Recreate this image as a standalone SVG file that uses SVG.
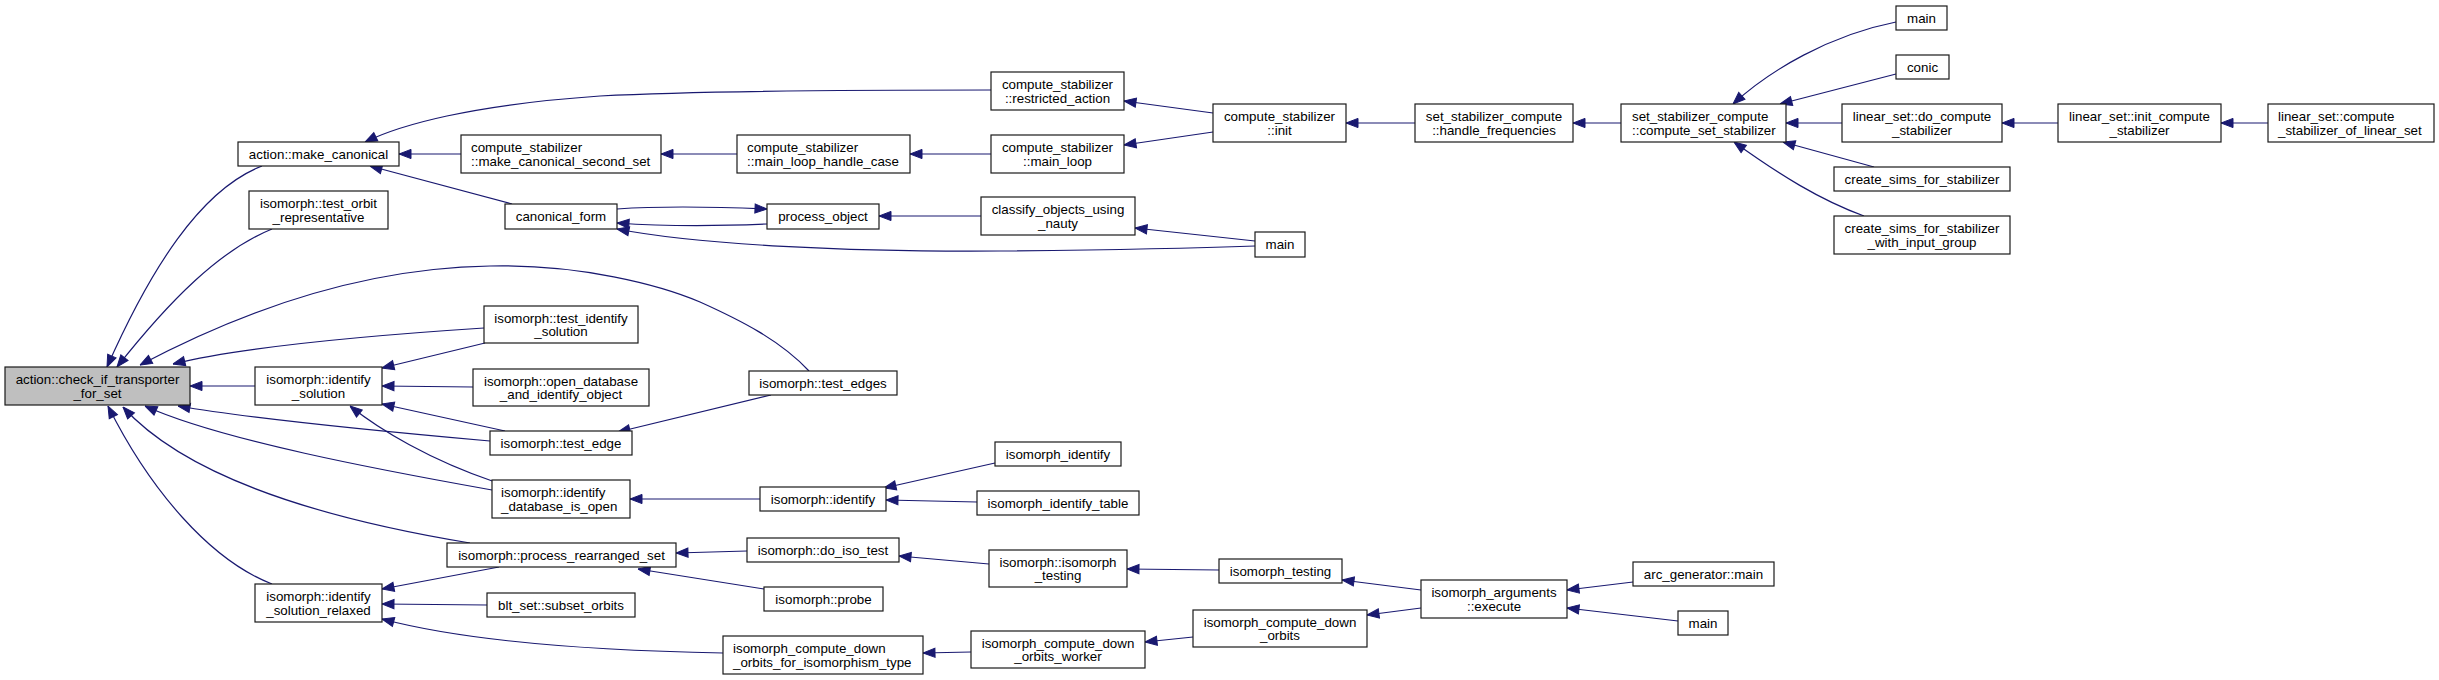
<svg xmlns="http://www.w3.org/2000/svg" width="2439" height="680" viewBox="0 0 2439 680">
<style>
.node rect{fill:#fff;stroke:#1a1a1a;stroke-width:1.2}
.node rect.root{fill:#bfbfbf}
text{font-family:"Liberation Sans",Arial,Helvetica,sans-serif;font-size:13.33px;fill:#000}
.c{text-anchor:middle}
.edges path{fill:none;stroke:#191970;stroke-width:1.2;marker-start:url(#arr)}
</style>
<defs>
<marker id="arr" markerUnits="userSpaceOnUse" markerWidth="14" markerHeight="12" viewBox="0 -6 14 12" refX="0" refY="0" orient="auto">
<path d="M0,0 L12,-4.6 L12,4.6 z" fill="#191970" stroke="#191970" stroke-width="1"/>
</marker>
</defs>
<rect x="0" y="0" width="2439" height="680" fill="#fff"/>
<g class="edges">
<path d="M107,367 C150,270 200,190 262,166"/>
<path d="M117,367 C170,300 220,250 272,229"/>
<path d="M140,365 C240,312 360,268 490,266 C580,264 660,285 700,302 C740,320 780,340 809,371"/>
<path d="M173,364 C230,350 330,338 484,328"/>
<path d="M190,386 L255,386"/>
<path d="M178,406 C260,420 400,433 490,441"/>
<path d="M145,406 C220,440 380,470 492,490"/>
<path d="M123,407 C180,470 300,515 470,543"/>
<path d="M108,406 C150,490 210,560 272,584"/>
<path d="M382,368 L485,343"/>
<path d="M382,386 L473,387"/>
<path d="M382,404 L505,431"/>
<path d="M350,406 C380,430 430,460 495,482"/>
<path d="M382,589 L499,567"/>
<path d="M382,604 L487,605"/>
<path d="M382,619 C450,637 560,650 723,653"/>
<path d="M676,553 L747,551"/>
<path d="M638,569 L764,589"/>
<path d="M618,432 L771,395"/>
<path d="M630,499 L760,499"/>
<path d="M884,488 L995,463"/>
<path d="M886,500 L977,502"/>
<path d="M899,556 L989,564"/>
<path d="M923,653 L971,652"/>
<path d="M1127,569 L1219,570"/>
<path d="M1145,642 L1193,637"/>
<path d="M1342,580 L1421,590"/>
<path d="M1367,615 L1421,608"/>
<path d="M1567,590 L1633,582"/>
<path d="M1567,608 L1678,621"/>
<path d="M1733,104 C1770,70 1830,35 1896,22"/>
<path d="M1780,104 L1896,74"/>
<path d="M1783,142 L1874,167"/>
<path d="M1734,142 C1780,175 1820,200 1864,216"/>
<path d="M1124,101 L1213,113"/>
<path d="M1124,145 L1213,132"/>
<path d="M1346,123 L1415,123"/>
<path d="M1573,123 L1621,123"/>
<path d="M1786,123 L1842,123"/>
<path d="M2002,123 L2058,123"/>
<path d="M2221,123 L2268,123"/>
<path d="M365,142 C400,125 470,105 600,96 C700,91 850,90 991,90"/>
<path d="M399,154 L461,154"/>
<path d="M661,154 L737,154"/>
<path d="M910,154 L991,154"/>
<path d="M370,166 L512,204"/>
<path d="M767,209 C720,207 660,206 617,209"/>
<path d="M617,223 C660,226 720,226 767,224"/>
<path d="M617,229 C700,245 850,252 1000,251 C1100,250 1200,248 1255,246"/>
<path d="M879,216 L981,216"/>
<path d="M1135,228 L1255,241"/>
</g>
<g id="n_check_if_transporter" class="node"><rect class="root" x="5" y="367" width="185" height="38"/><text class="c" x="97.5" y="384">action::check_if_transporter</text><text class="c" x="97.5" y="397.5">_for_set</text></g>
<g id="n_make_canonical" class="node"><rect x="238" y="142" width="161" height="24"/><text class="c" x="318.5" y="158.5">action::make_canonical</text></g>
<g id="n_test_orbit_representative" class="node"><rect x="249" y="191" width="139" height="38"/><text class="c" x="318.5" y="208">isomorph::test_orbit</text><text class="c" x="318.5" y="221.5">_representative</text></g>
<g id="n_identify_solution" class="node"><rect x="255" y="367" width="127" height="38"/><text class="c" x="318.5" y="384">isomorph::identify</text><text class="c" x="318.5" y="397.5">_solution</text></g>
<g id="n_identify_solution_relaxed" class="node"><rect x="255" y="584" width="127" height="38"/><text class="c" x="318.5" y="601">isomorph::identify</text><text class="c" x="318.5" y="614.5">_solution_relaxed</text></g>
<g id="n_make_canonical_second_set" class="node"><rect x="461" y="135" width="200" height="38"/><text x="471" y="152">compute_stabilizer</text><text x="471" y="165.5">::make_canonical_second_set</text></g>
<g id="n_canonical_form" class="node"><rect x="505" y="204" width="112" height="25"/><text class="c" x="561" y="221">canonical_form</text></g>
<g id="n_test_identify_solution" class="node"><rect x="484" y="306" width="154" height="37"/><text class="c" x="561" y="322.5">isomorph::test_identify</text><text class="c" x="561" y="336">_solution</text></g>
<g id="n_open_database" class="node"><rect x="473" y="369" width="176" height="37"/><text class="c" x="561" y="385.5">isomorph::open_database</text><text class="c" x="561" y="399">_and_identify_object</text></g>
<g id="n_test_edge" class="node"><rect x="490" y="431" width="142" height="24"/><text class="c" x="561" y="447.5">isomorph::test_edge</text></g>
<g id="n_identify_database_is_open" class="node"><rect x="492" y="480" width="138" height="38"/><text x="501" y="497">isomorph::identify</text><text x="501" y="510.5">_database_is_open</text></g>
<g id="n_process_rearranged_set" class="node"><rect x="447" y="543" width="229" height="24"/><text class="c" x="561.5" y="559.5">isomorph::process_rearranged_set</text></g>
<g id="n_subset_orbits" class="node"><rect x="487" y="593" width="148" height="24"/><text class="c" x="561" y="609.5">blt_set::subset_orbits</text></g>
<g id="n_down_orbits_for_iso_type" class="node"><rect x="723" y="636" width="200" height="38"/><text x="733" y="653">isomorph_compute_down</text><text x="733" y="666.5">_orbits_for_isomorphism_type</text></g>
<g id="n_main_loop_handle_case" class="node"><rect x="737" y="135" width="173" height="38"/><text x="747" y="152">compute_stabilizer</text><text x="747" y="165.5">::main_loop_handle_case</text></g>
<g id="n_process_object" class="node"><rect x="767" y="204" width="112" height="25"/><text class="c" x="823" y="221">process_object</text></g>
<g id="n_test_edges" class="node"><rect x="749" y="371" width="148" height="24"/><text class="c" x="823" y="387.5">isomorph::test_edges</text></g>
<g id="n_identify" class="node"><rect x="760" y="487" width="126" height="24"/><text class="c" x="823" y="503.5">isomorph::identify</text></g>
<g id="n_do_iso_test" class="node"><rect x="747" y="538" width="152" height="24"/><text class="c" x="823" y="554.5">isomorph::do_iso_test</text></g>
<g id="n_probe" class="node"><rect x="764" y="587" width="119" height="24"/><text class="c" x="823.5" y="603.5">isomorph::probe</text></g>
<g id="n_restricted_action" class="node"><rect x="991" y="72" width="133" height="38"/><text class="c" x="1057.5" y="89">compute_stabilizer</text><text class="c" x="1057.5" y="102.5">::restricted_action</text></g>
<g id="n_main_loop" class="node"><rect x="991" y="135" width="133" height="38"/><text class="c" x="1057.5" y="152">compute_stabilizer</text><text class="c" x="1057.5" y="165.5">::main_loop</text></g>
<g id="n_classify" class="node"><rect x="981" y="197" width="154" height="38"/><text class="c" x="1058" y="214">classify_objects_using</text><text class="c" x="1058" y="227.5">_nauty</text></g>
<g id="n_isomorph_identify" class="node"><rect x="995" y="442" width="126" height="24"/><text class="c" x="1058" y="458.5">isomorph_identify</text></g>
<g id="n_isomorph_identify_table" class="node"><rect x="977" y="491" width="162" height="24"/><text class="c" x="1058" y="507.5">isomorph_identify_table</text></g>
<g id="n_isomorph_isomorph_testing" class="node"><rect x="989" y="550" width="138" height="37"/><text class="c" x="1058" y="566.5">isomorph::isomorph</text><text class="c" x="1058" y="580">_testing</text></g>
<g id="n_down_orbits_worker" class="node"><rect x="971" y="631" width="174" height="37"/><text class="c" x="1058" y="647.5">isomorph_compute_down</text><text class="c" x="1058" y="661">_orbits_worker</text></g>
<g id="n_init" class="node"><rect x="1213" y="104" width="133" height="38"/><text class="c" x="1279.5" y="121">compute_stabilizer</text><text class="c" x="1279.5" y="134.5">::init</text></g>
<g id="n_main_mid" class="node"><rect x="1255" y="232" width="50" height="25"/><text class="c" x="1280" y="249">main</text></g>
<g id="n_isomorph_testing" class="node"><rect x="1219" y="559" width="123" height="24"/><text class="c" x="1280.5" y="575.5">isomorph_testing</text></g>
<g id="n_down_orbits" class="node"><rect x="1193" y="610" width="174" height="37"/><text class="c" x="1280" y="626.5">isomorph_compute_down</text><text class="c" x="1280" y="640">_orbits</text></g>
<g id="n_handle_frequencies" class="node"><rect x="1415" y="104" width="158" height="38"/><text class="c" x="1494" y="121">set_stabilizer_compute</text><text class="c" x="1494" y="134.5">::handle_frequencies</text></g>
<g id="n_execute" class="node"><rect x="1421" y="580" width="146" height="38"/><text class="c" x="1494" y="597">isomorph_arguments</text><text class="c" x="1494" y="610.5">::execute</text></g>
<g id="n_compute_set_stabilizer" class="node"><rect x="1621" y="104" width="165" height="38"/><text x="1632" y="121">set_stabilizer_compute</text><text x="1632" y="134.5">::compute_set_stabilizer</text></g>
<g id="n_arc_generator_main" class="node"><rect x="1633" y="562" width="141" height="24"/><text class="c" x="1703.5" y="578.5">arc_generator::main</text></g>
<g id="n_main_bottom" class="node"><rect x="1678" y="611" width="50" height="24"/><text class="c" x="1703" y="627.5">main</text></g>
<g id="n_main_top" class="node"><rect x="1896" y="6" width="51" height="24"/><text class="c" x="1921.5" y="22.5">main</text></g>
<g id="n_conic" class="node"><rect x="1896" y="55" width="53" height="24"/><text class="c" x="1922.5" y="71.5">conic</text></g>
<g id="n_do_compute_stabilizer" class="node"><rect x="1842" y="104" width="160" height="38"/><text class="c" x="1922" y="121">linear_set::do_compute</text><text class="c" x="1922" y="134.5">_stabilizer</text></g>
<g id="n_create_sims" class="node"><rect x="1834" y="167" width="176" height="24"/><text class="c" x="1922" y="183.5">create_sims_for_stabilizer</text></g>
<g id="n_create_sims_input_group" class="node"><rect x="1834" y="216" width="176" height="38"/><text class="c" x="1922" y="233">create_sims_for_stabilizer</text><text class="c" x="1922" y="246.5">_with_input_group</text></g>
<g id="n_init_compute_stabilizer" class="node"><rect x="2058" y="104" width="163" height="38"/><text class="c" x="2139.5" y="121">linear_set::init_compute</text><text class="c" x="2139.5" y="134.5">_stabilizer</text></g>
<g id="n_compute_stabilizer_of_linear_set" class="node"><rect x="2268" y="104" width="166" height="38"/><text x="2278" y="121">linear_set::compute</text><text x="2278" y="134.5">_stabilizer_of_linear_set</text></g>
</svg>
